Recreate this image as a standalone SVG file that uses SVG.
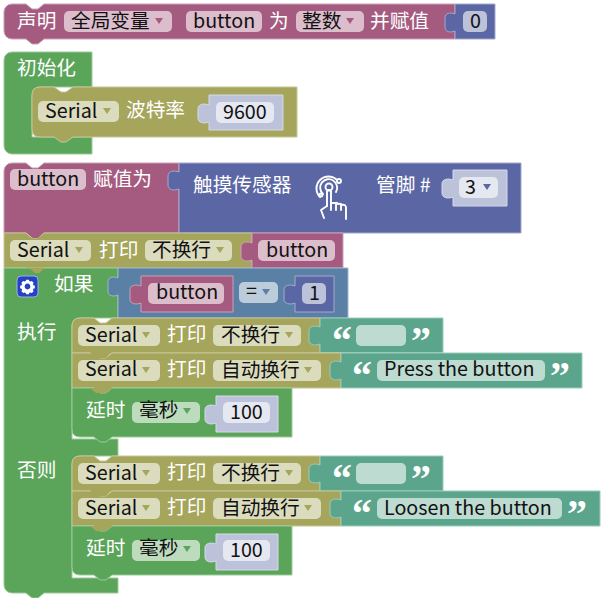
<svg xmlns="http://www.w3.org/2000/svg" width="604" height="598" viewBox="0 0 604 598">
<style>
text{font-family:"Noto Sans CJK SC","Noto Sans",sans-serif;font-size:19.7px}
.t{fill:#fff}.d{fill:#111}
text.q{font-family:"Liberation Serif",serif;font-weight:bold;font-size:40px;fill:#fff}
.b{stroke-width:1}
.pink{fill:#a55b80;stroke:#c9a0b6}.blue{fill:#5b67a5;stroke:#a3a9cc}.green{fill:#5ba55b;stroke:#9acb9a}
.olive{fill:#a5a55b;stroke:#c6c69a}.teal{fill:#5ba58c;stroke:#9accba}.steel{fill:#5b80a5;stroke:#a0b5cb}
.sh{fill:#bdc2db;stroke:#d6d9e9}
.f{fill:#fff;fill-opacity:.6}
.tp{fill:#a55b80}.to{fill:#a5a55b}.tg{fill:#5ba55b}.tb{fill:#5b67a5}.ts{fill:#5b80a5}
.ic{fill:none;stroke:#fff;stroke-width:1.9;stroke-linecap:round;stroke-linejoin:round}
</style>
<g id="declare">
<path class="b pink" d="M4 12a8 8 0 0 1 8-8H26l6 5h6l6-5H455V39H44l-6 5h-6l-6-5H12a8 8 0 0 1-8-8z"/>
<text class="t" x="17" y="28">声明</text>
<rect class="f" x="64" y="11" width="108" height="21" rx="5"/><text class="d" x="71" y="28">全局变量</text><path class="tp" d="M155 18h8l-4 6z"/>
<rect class="f" x="186" y="11" width="76" height="21" rx="5"/><text class="d" x="193" y="27.500">button</text>
<text class="t" x="269" y="28">为</text>
<rect class="f" x="296" y="11" width="68" height="21" rx="5"/><text class="d" x="302" y="28">整数</text><path class="tp" d="M346 18h8l-4 6z"/>
<text class="t" x="370" y="28">并赋值</text>
</g>
<g id="declare-value">
<path class="b blue" d="M455 4H495V39H455V31c-5 2-10 1-10-4v-9c0-5 5-6 10-4z"/>
<rect class="f" x="463" y="11" width="24" height="21" rx="5"/><text class="d" x="470" y="27.500">0</text>
</g>
<g id="setup">
<path class="b green" d="M4 60a8 8 0 0 1 8-8H92V87H40q-8 0-8 8V137H92V154H12a8 8 0 0 1-8-8z"/>
<text class="t" x="17" y="75">初始化</text>
</g>
<g id="serial-baud">
<path class="b olive" d="M32 95q0-8 8-8H54l7 5h5l7-5H297V137H73l-7 5h-5l-7-5H40q-8 0-8-8z"/>
<rect class="f" x="38" y="101" width="81" height="21" rx="5"/><text class="d" x="45" y="117.500">Serial</text><path class="to" d="M103 108h8l-4 6z"/>
<text class="t" x="126" y="117">波特率</text>
</g>
<g id="baud-value">
<path class="b sh" d="M209 95H283V130H209V122c-5 2-11 1-11-4v-9c0-5 6-6 11-4z"/>
<rect class="f" x="216" y="102" width="58" height="21" rx="5"/><text class="d" x="223" y="118.500">9600</text>
</g>
<g id="assign">
<path class="b pink" d="M4 171a8 8 0 0 1 8-8H26l6 5h6l6-5H179V233H44l-6 5h-6l-6-5H4z"/>
<rect class="f" x="10" y="169" width="76" height="21" rx="5"/><text class="d" x="17" y="185.500">button</text>
<text class="t" x="93" y="186">赋值为</text>
</g>
<g id="touch-sensor">
<path class="b blue" d="M179 163H521V233H179V189c-5 2-11 1-11-4v-9c0-5 6-6 11-4z"/>
<text class="t" x="193" y="192">触摸传感器</text>
<g class="ic">
<circle cx="329" cy="187" r="3.500"/>
<path d="M323 194a8.500 8.500 0 1 1 13-2"/>
<path d="M320 197a12 12 0 1 1 17-17"/>
<circle cx="339" cy="181" r="2"/><circle cx="321" cy="195" r="1.500"/>
<path d="M327 206V191q2-2 4 0V203l4 0q2-1 3 1q3-1 4 1q3-1 4 2v12"/>
<path d="M331 203v7M336 204v6M341 205v5"/>
<path d="M327 206l-6 4 3 8"/>
</g>
<text class="t" x="376" y="192">管脚 #</text>
</g>
<g id="pin-value">
<path class="b sh" d="M453 170H507V206H453V197c-5 2-11 1-11-4v-9c0-5 6-6 11-4z"/>
<rect class="f" x="459" y="177" width="39" height="21" rx="5"/><text class="d" x="465" y="193.500">3</text><path class="tb" d="M483 184h8l-4 6z"/>
</g>
<g id="print-button">
<path class="b olive" d="M4 233H26l6 5h6l6-5H252V268H44l-6 5h-6l-6-5H4z"/>
<path class="tp" d="M28 233h15l-5 5h-5z"/>
<rect class="f" x="10" y="240" width="81" height="21" rx="5"/><text class="d" x="17" y="256.500">Serial</text><path class="to" d="M75 247h8l-4 6z"/>
<text class="t" x="99" y="257">打印</text>
<rect class="f" x="145" y="240" width="87" height="21" rx="5"/><text class="d" x="152" y="257">不换行</text><path class="to" d="M216 247h8l-4 6z"/>
</g>
<g id="print-button-value">
<path class="b pink" d="M252 233H343V268H252V260c-5 2-11 1-11-4v-9c0-5 6-6 11-4z"/>
<rect class="f" x="258" y="240" width="77" height="21" rx="5"/><text class="d" x="266" y="256.500">button</text>
</g>
<g id="if-block">
<path class="b green" d="M4 268H118V318H80q-8 0-8 8V439H118V456H80q-8 0-8 8V578H118V593H44l-6 5h-6l-6-5H12a8 8 0 0 1-8-8z"/>
<path class="to" d="M29 268h16l-6 5h-4z"/>
<rect x="17" y="276" width="21" height="21" rx="4" fill="#2343c4" stroke="#9fb0e0"/>
<path fill="#fff" fill-rule="evenodd" transform="translate(27.500 286.500) scale(.72) translate(-27.500 -289)" d="M25.600 279.500h3.800l.5 2 1.700.7 1.800-1 2.600 2.600-1 1.800.7 1.700 2 .5v3.800l-2 .5-.7 1.700 1 1.800-2.600 2.600-1.800-1-1.700.7-.5 2h-3.800l-.5-2-1.700-.7-1.800 1-2.600-2.600 1-1.800-.7-1.700-2-.5v-3.800l2-.5.7-1.700-1-1.800 2.600-2.600 1.800 1 1.700-.7zM27.500 285a4 4 0 1 0 .01 0z"/>
<text class="t" x="54" y="291">如果</text>
<text class="t" x="17" y="339">执行</text>
<text class="t" x="17" y="477">否则</text>
</g>
<g id="compare">
<path class="b steel" d="M118 268H348V318H118V295c-5 2-10 1-10-4v-9c0-5 5-6 10-4z"/>
<rect class="f" x="239" y="282" width="39" height="21" rx="5"/><text class="d" x="246" y="298">=</text><path class="ts" d="M262 289h8l-4 6z"/>
</g>
<g id="compare-left">
<path class="b pink" d="M141 276H233V312H141V303c-5 2-11 1-11-4v-9c0-5 6-6 11-4z"/>
<rect class="f" x="148" y="283" width="76" height="21" rx="5"/><text class="d" x="156" y="299">button</text>
</g>
<g id="compare-right">
<path class="b blue" d="M295 276H334V312H295V303c-5 2-11 1-11-4v-9c0-5 6-6 11-4z"/>
<rect class="f" x="302" y="283" width="24" height="21" rx="5"/><text class="d" x="309" y="300">1</text>
</g>
<g id="then-print-1">
<path class="b olive" d="M72 326q0-8 8-8H94l6 5h6l6-5H320V353H72z"/>
<rect class="f" x="78" y="325" width="82" height="21" rx="5"/><text class="d" x="85" y="341.500">Serial</text><path class="to" d="M142 332h8l-4 6z"/>
<text class="t" x="167" y="341">打印</text>
<rect class="f" x="213" y="325" width="88" height="21" rx="5"/><text class="d" x="221" y="341.500">不换行</text><path class="to" d="M285 332h8l-4 6z"/>
</g>
<g id="then-print-1-value">
<path class="b teal" d="M320 318H443V352.500H320V344c-5 2-11 1-11-4v-9c0-5 6-6 11-4z"/>
<text class="q" x="332" y="354">“</text><rect class="f" x="356" y="325" width="50" height="21" rx="5"/><text class="q" x="411" y="354">”</text>
</g>
<g id="then-print-2">
<path class="b olive" d="M72 353H94l6 5h6l6-5H341V388H112l-6 5h-6l-6-5H72z"/>
<path class="to" d="M90 352h22l-6 6h-10z"/>
<rect class="f" x="78" y="360" width="82" height="21" rx="5"/><text class="d" x="85" y="376">Serial</text><path class="to" d="M142 367h8l-4 6z"/>
<text class="t" x="167" y="376">打印</text>
<rect class="f" x="213" y="360" width="108" height="21" rx="5"/><text class="d" x="221" y="376.500">自动换行</text><path class="to" d="M304 367h8l-4 6z"/>
</g>
<g id="then-print-2-value">
<path class="b teal" d="M341 353H582V388H341V379c-5 2-11 1-11-4v-9c0-5 6-6 11-4z"/>
<text class="q" x="352" y="389">“</text><rect class="f" x="377" y="360" width="168" height="21" rx="5"/><text class="d" x="384" y="376">Press the button</text><text class="q" x="550" y="389">”</text>
</g>
<g id="then-delay">
<path class="b green" d="M72 388H94l6 5h6l6-5H292V437H112l-6 5h-6l-6-5H80q-8 0-8-8z"/>
<path class="to" d="M90 388h22l-6 5h-10z"/>
<text class="t" x="86" y="417">延时</text>
<rect class="f" x="132" y="402" width="68" height="21" rx="5"/><text class="d" x="139" y="417">毫秒</text><path class="tg" d="M183 408h8l-4 6z"/>
</g>
<g id="then-delay-value">
<path class="b sh" d="M216 396H278V432H216V423c-5 2-11 1-11-4v-9c0-5 6-6 11-4z"/>
<rect class="f" x="223" y="402" width="47" height="21" rx="5"/><text class="d" x="230" y="418.500">100</text>
</g>
<g id="else-print-1">
<path class="b olive" d="M72 464q0-8 8-8H94l6 5h6l6-5H320V491H72z"/>
<rect class="f" x="78" y="463" width="82" height="21" rx="5"/><text class="d" x="85" y="479.500">Serial</text><path class="to" d="M142 470h8l-4 6z"/>
<text class="t" x="167" y="479">打印</text>
<rect class="f" x="213" y="463" width="88" height="21" rx="5"/><text class="d" x="221" y="479.500">不换行</text><path class="to" d="M285 470h8l-4 6z"/>
</g>
<g id="else-print-1-value">
<path class="b teal" d="M320 456H443V491H320V482c-5 2-11 1-11-4v-9c0-5 6-6 11-4z"/>
<text class="q" x="332" y="492">“</text><rect class="f" x="356" y="463" width="50" height="21" rx="5"/><text class="q" x="411" y="492">”</text>
</g>
<g id="else-print-2">
<path class="b olive" d="M72 491H94l6 5h6l6-5H341V526H112l-6 5h-6l-6-5H72z"/>
<path class="to" d="M90 490h22l-6 6h-10z"/>
<rect class="f" x="78" y="498" width="82" height="21" rx="5"/><text class="d" x="85" y="514.500">Serial</text><path class="to" d="M142 505h8l-4 6z"/>
<text class="t" x="167" y="514">打印</text>
<rect class="f" x="213" y="498" width="108" height="21" rx="5"/><text class="d" x="221" y="515">自动换行</text><path class="to" d="M304 505h8l-4 6z"/>
</g>
<g id="else-print-2-value">
<path class="b teal" d="M341 491H600V526H341V517c-5 2-11 1-11-4v-9c0-5 6-6 11-4z"/>
<text class="q" x="352" y="527">“</text><rect class="f" x="377" y="498" width="185" height="21" rx="5"/><text class="d" x="384" y="514.500">Loosen the button</text><text class="q" x="567" y="527">”</text>
</g>
<g id="else-delay">
<path class="b green" d="M72 526H94l6 5h6l6-5H292V575H112l-6 5h-6l-6-5H80q-8 0-8-8z"/>
<path class="to" d="M90 526h22l-6 5h-10z"/>
<text class="t" x="86" y="555">延时</text>
<rect class="f" x="132" y="540" width="68" height="21" rx="5"/><text class="d" x="139" y="555">毫秒</text><path class="tg" d="M183 546h8l-4 6z"/>
</g>
<g id="else-delay-value">
<path class="b sh" d="M216 534H278V570H216V561c-5 2-11 1-11-4v-9c0-5 6-6 11-4z"/>
<rect class="f" x="223" y="540" width="47" height="21" rx="5"/><text class="d" x="230" y="556.500">100</text>
</g>
</svg>
